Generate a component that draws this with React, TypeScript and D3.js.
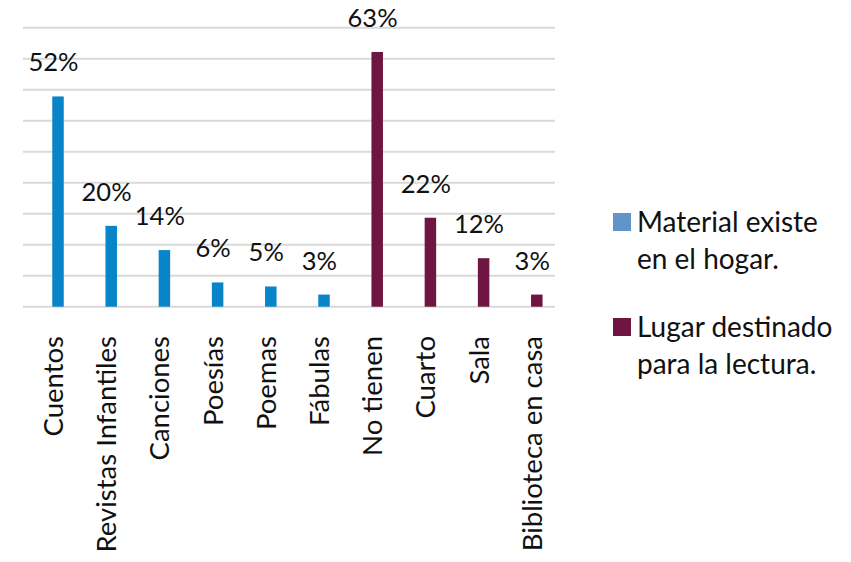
import { useMemo } from 'react';
import * as d3 from 'd3';

const categories = [
  'Cuentos',
  'Revistas Infantiles',
  'Canciones',
  'Poesías',
  'Poemas',
  'Fábulas',
  'No tienen',
  'Cuarto',
  'Sala',
  'Biblioteca en casa',
];

// porcentaje por categoría, null donde la serie no aplica
const materialValues = [52, 20, 14, 6, 5, 3, null, null, null, null];
const lugarValues = [null, null, null, null, null, null, 63, 22, 12, 3];

const seriesNames = [
  ['Material existe', 'en el hogar.'],
  ['Lugar destinado', 'para la lectura.'],
];
const barColors = ['#0785C8', '#6E1541'];
const legendColors = ['#5F95C8', '#6E1541'];

const yMax = 69;
const gridCount = 9;

const width = 851;
const height = 562;
const font = 'Lato, "Noto Sans", sans-serif';

export default function App() {
  const x = useMemo(
    () => d3.scaleBand<string>().domain(categories).range([23, 555]).padding(0),
    []
  );
  const y = useMemo(() => d3.scaleLinear().domain([0, yMax]).range([306.7, 27.7]), []);

  const bw = x.bandwidth();
  const barW = bw * 0.216;
  const center = (c: string) => (x(c) ?? 0) + bw * 0.658;

  const gridTicks = d3.range(gridCount + 1).map((i) => (yMax / gridCount) * i);

  const bars = categories.flatMap((c, i) => {
    const out: { cat: string; value: number; color: string }[] = [];
    if (materialValues[i] != null) out.push({ cat: c, value: materialValues[i] as number, color: barColors[0] });
    if (lugarValues[i] != null) out.push({ cat: c, value: lugarValues[i] as number, color: barColors[1] });
    return out;
  });

  return (
    <div style={{ position: 'absolute', left: 0, top: 0, width, height, background: '#fff' }}>
      <svg width={width} height={height} style={{ display: 'block', fontFamily: font }}>
        {/* gridlines */}
        {gridTicks.map((t, i) => (
          <line key={i} x1={23} x2={555} y1={y(t)} y2={y(t)} stroke="#D9D9D9" strokeWidth={2} />
        ))}

        {/* bars */}
        {bars.map((b) => (
          <rect
            key={b.cat}
            x={center(b.cat) - barW / 2}
            y={y(b.value)}
            width={barW}
            height={y(0) - y(b.value)}
            fill={b.color}
          />
        ))}

        {/* value labels */}
        {bars.map((b) => (
          <text
            key={'l' + b.cat}
            x={center(b.cat) - 4.6}
            y={y(b.value) - 25}
            textAnchor="middle"
            fontSize={25.5}
            fill="#111"
          >
            {b.value}%
          </text>
        ))}

        {/* category labels */}
        {categories.map((c) => (
          <text
            key={'c' + c}
            transform={`translate(${center(c) + 5},${336}) rotate(-90)`}
            textAnchor="end"
            fontSize={27.5}
            fill="#111"
          >
            {c}
          </text>
        ))}

        {/* legend */}
        {seriesNames.map((lines, i) => (
          <g key={'lg' + i} transform={`translate(613,${213 + i * 105})`}>
            <rect width={18} height={18} fill={legendColors[i]} />
            {lines.map((ln, j) => (
              <text key={j} x={24} y={19 + j * 37} fontSize={28} fill="#111">
                {ln}
              </text>
            ))}
          </g>
        ))}
      </svg>
    </div>
  );
}
